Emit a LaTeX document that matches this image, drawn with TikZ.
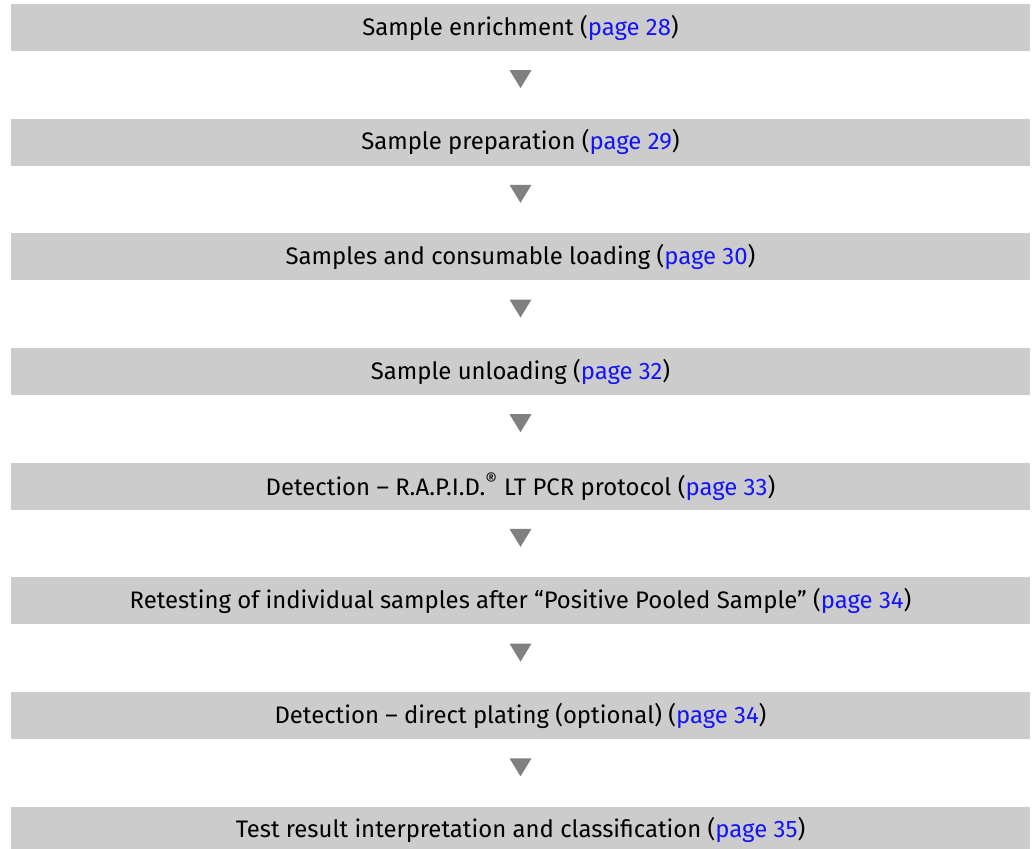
\documentclass[tikz,border=0pt]{standalone}
\usepackage{fontspec}
\setmainfont{Fira Sans}
\usetikzlibrary{calc}
\definecolor{boxgrey}{RGB}{204,204,204}
\definecolor{tipgrey}{RGB}{128,128,128}
\definecolor{linkblue}{RGB}{20,20,245}
\newcommand{\seepage}[1]{(\textcolor{linkblue}{page #1})}
% down pointer between two steps
\newcommand{\steptip}[2]{\fill[tipgrey] ($(#1)!0.45!(#2)$) ++(-0.275,0.225) -- ++(0.55,0) -- ++(-0.275,-0.45) -- cycle;}
\begin{document}
\begin{tikzpicture}[font=\fontsize{17}{20}\selectfont,
      stepbox/.style={fill=boxgrey, inner sep=0pt, align=center, minimum width=25.475cm, minimum height=1.175cm}]
    \useasboundingbox (0,0) rectangle (25.85,-21.225);
    \node[stepbox] (enr) at (13.0125,-0.6875)  {Sample enrichment \seepage{28}};
    \node[stepbox] (prep) at (13.0125,-3.555)  {Sample preparation \seepage{29}};
    \node[stepbox] (load) at (13.0125,-6.4225) {Samples and consumable loading \seepage{30}};
    \node[stepbox] (unl) at (13.0125,-9.29)    {Sample unloading \seepage{32}};
    \node[stepbox] (pcr) at (13.0125,-12.1575) {Detection -- R.A.P.I.D.\textsuperscript{\fontsize{13}{13}\selectfont\textregistered} LT PCR protocol \seepage{33}};
    \node[stepbox] (ret) at (13.0125,-15.025)  {Retesting of individual samples after “Positive Pooled Sample” \seepage{34}};
    \node[stepbox] (plat) at (13.0125,-17.8925) {Detection -- direct plating (optional) \seepage{34}};
    \node[stepbox] (res) at (13.0125,-20.76)   {Test result interpretation and classification \seepage{35}};
    \steptip{enr}{prep}
    \steptip{prep}{load}
    \steptip{load}{unl}
    \steptip{unl}{pcr}
    \steptip{pcr}{ret}
    \steptip{ret}{plat}
    \steptip{plat}{res}
  \end{tikzpicture}
\end{document}
